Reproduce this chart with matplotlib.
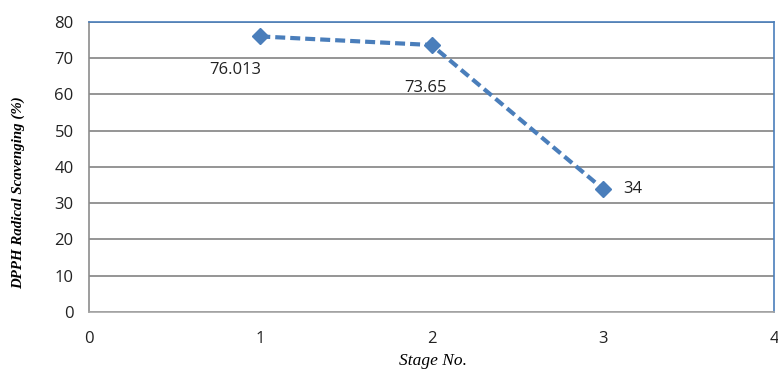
import matplotlib.pyplot as plt

# Data
stages = [1, 2, 3]
scavenging = [76.013, 73.65, 34]
labels = ['76.013', '73.65', '34']
label_offsets = [(-25, -34), (-6, -43), (20, 0)]  # in pixels
label_ha = ['center', 'center', 'left']

fig = plt.figure(figsize=(7.78, 3.72), dpi=100)
ax = fig.add_axes([0.1144, 0.1613, 0.8805, 0.7796])

blue = '#4A7EBB'
grid_gray = '#8C8C8C'
tick_font = 'Open Sans'

ax.plot(stages, scavenging, linestyle=(0, (2.4, 1.2)), color=blue, linewidth=3.0,
        marker='D', markersize=8.5, markerfacecolor=blue, markeredgecolor=blue, zorder=5)

for x, y, txt, (dx, dy), ha in zip(stages, scavenging, labels, label_offsets, label_ha):
    ax.annotate(txt, (x, y), xytext=(dx * 0.72, dy * 0.72), textcoords='offset points',
                ha=ha, va='center', fontsize=12, family=tick_font, color='#222222')

ax.set_xlim(0, 4)
ax.set_ylim(0, 80)
ax.set_xticks([0, 1, 2, 3, 4])
ax.set_yticks(range(0, 81, 10))
ax.yaxis.grid(True, color=grid_gray, linewidth=1.3)
ax.set_axisbelow(True)
ax.tick_params(length=0, labelsize=12, colors='#222222')
ax.tick_params(axis='y', pad=11)
ax.tick_params(axis='x', pad=14)
for lbl in ax.get_xticklabels() + ax.get_yticklabels():
    lbl.set_family(tick_font)

ax.spines['left'].set_color(grid_gray)
ax.spines['bottom'].set_color('#A6A6A6')
ax.spines['top'].set_color(blue)
ax.spines['right'].set_color(blue)
for s in ax.spines.values():
    s.set_linewidth(1.2)

ax.set_ylabel('DPPH Radical Scavenging (%)', family='Liberation Serif', style='italic',
              fontweight='bold', fontsize=10.7)
ax.yaxis.set_label_coords(-0.094, 0.41)
ax.set_xlabel('Stage No.', family='Liberation Serif', style='italic', fontsize=12.5,
              va='center')
ax.xaxis.set_label_coords(0.502, -0.17)

fig.savefig('out.png', dpi=100)
